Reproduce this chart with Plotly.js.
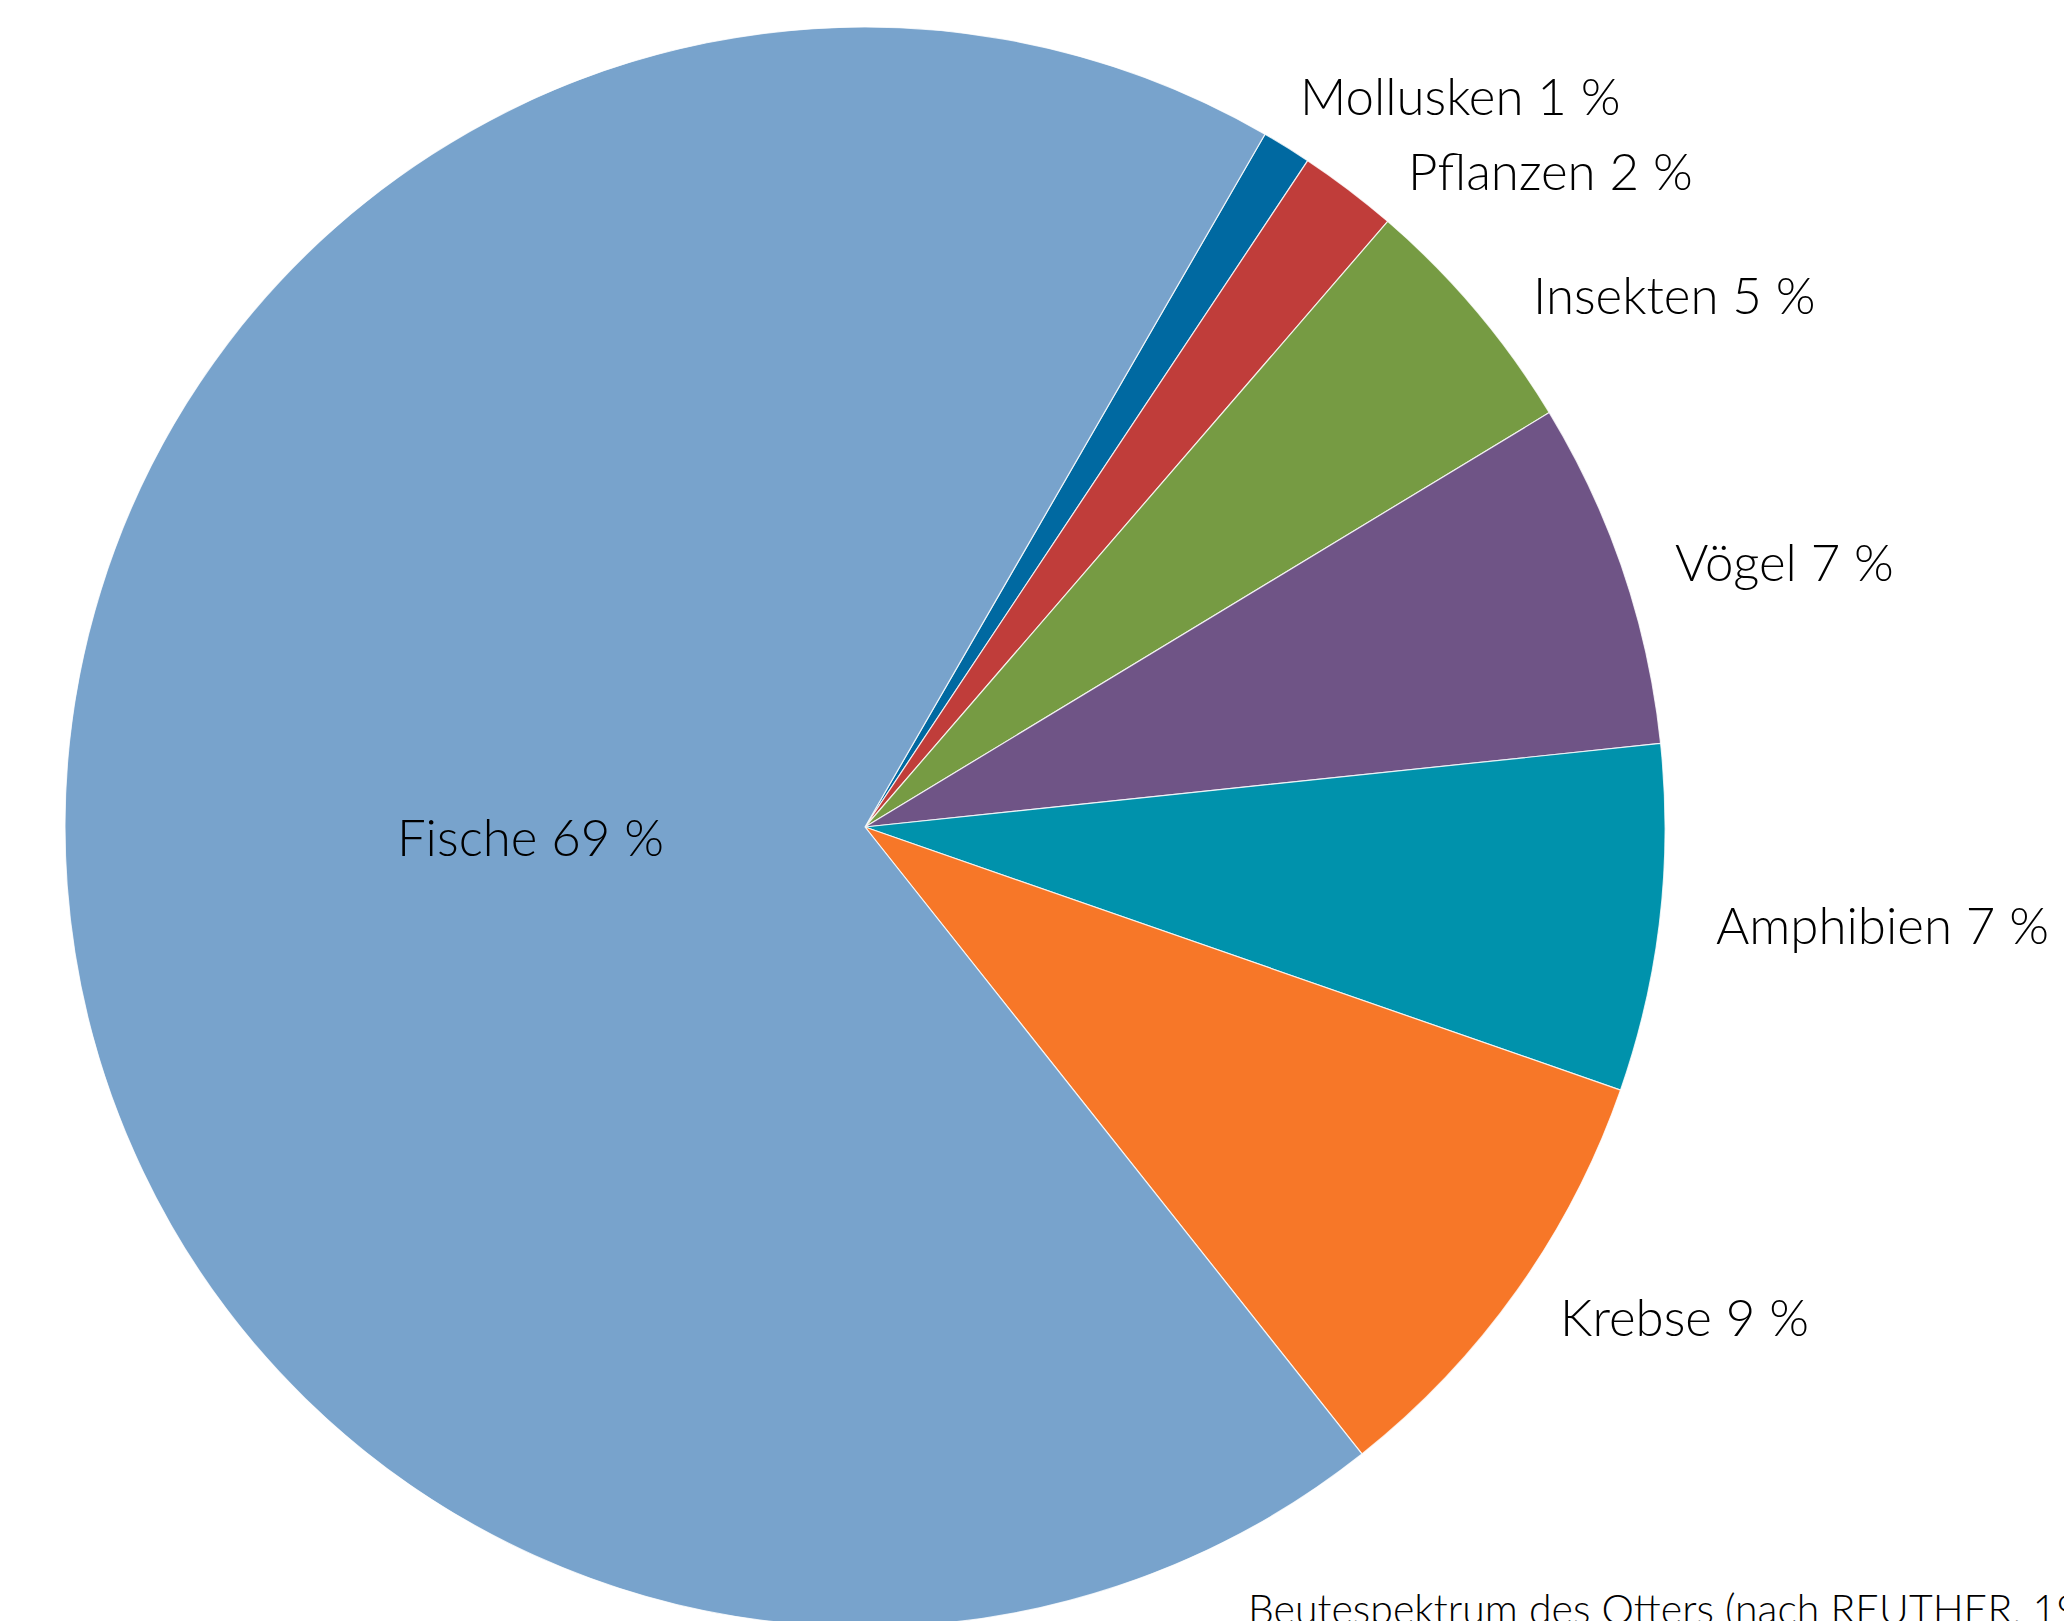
<!DOCTYPE html>
<html>
<head>
<meta charset="utf-8">
<script src="https://cdn.plot.ly/plotly-3.0.1.min.js"></script>
<style>
html, body { margin: 0; padding: 0; overflow: hidden; background: #ffffff; }
#chart { width: 2064px; height: 1640px; }
</style>
</head>
<body>
<div id="chart"></div>
<script>
// ---- Data (clockwise order, starting at Mollusken) ----
const categories = ["Mollusken", "Pflanzen", "Insekten", "Vögel", "Amphibien", "Krebse", "Fische"];
const shares = [1, 2, 5, 7, 7, 9, 69];
const caption = "Beutespektrum des Otters (nach REUTHER, 1993)";

// ---- Styles / layout ----
const sliceColors = ["#0069A1", "#C03D3A", "#769B43", "#6F5486", "#0092AC", "#F77728", "#78A3CC"];
const W = 2064, H = 1640;
const cx = 865, cy = 827, R = 800;
// label anchor points (left edge x, vertical middle y) in page pixels
const labelAnchors = [
  [1298, 95], [1406, 171], [1531, 294], [1673, 561], [1714, 925], [1558, 1316], [395, 836]
];
const FONT = "Lato, sans-serif";

const trace = {
  type: "pie",
  labels: categories,
  values: shares,
  textinfo: "none",
  sort: false,
  direction: "clockwise",
  rotation: 30,
  marker: { colors: sliceColors, line: { color: "rgba(255,255,255,0.8)", width: 1.2 } },
  domain: { x: [(cx - R) / W, (cx + R) / W], y: [(H - cy - R) / H, (H - cy + R) / H] },
  hoverinfo: "none",
  showlegend: false
};

const annotations = categories.map((c, i) => ({
  text: c + " " + shares[i] + " %",
  xref: "paper", yref: "paper",
  x: labelAnchors[i][0] / W, y: (H - labelAnchors[i][1]) / H,
  xanchor: "left", yanchor: "middle",
  showarrow: false,
  font: { family: FONT, size: 51, color: "#000000", weight: 300 }
}));

annotations.push({
  text: caption, xref: "paper", yref: "paper",
  x: 1246 / W, y: (H - 1635) / H, xanchor: "left", yanchor: "bottom",
  showarrow: false,
  font: { family: FONT, size: 41, color: "#000000", weight: 300 }
});

const layout = {
  width: W, height: H,
  margin: { l: 0, r: 0, t: 0, b: 0 },
  paper_bgcolor: "#ffffff",
  showlegend: false,
  annotations: annotations
};

Plotly.newPlot("chart", [trace], layout, { staticPlot: true });
</script>
</body>
</html>
